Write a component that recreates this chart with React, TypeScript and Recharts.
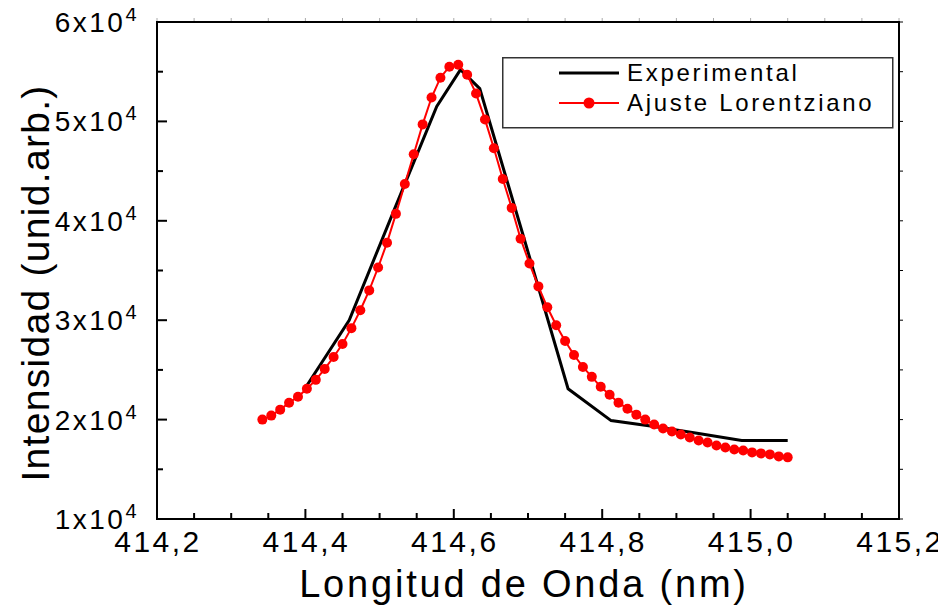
import React from 'react';
import { LineChart, Line, XAxis, YAxis, Legend } from 'recharts';

// Experimental spectrum (nm, counts)
const expWavelength = [414.40, 414.459, 414.518, 414.577, 414.609, 414.635, 414.694, 414.754, 414.812, 414.87, 414.93, 414.988, 415.05];
const expIntensity = [23200, 30000, 40800, 51500, 55200, 53300, 38400, 23100, 19900, 19300, 18600, 17900, 17900];

// Lorentzian fit points
const fitWavelength = [
  414.342, 414.354, 414.366, 414.378, 414.390, 414.402, 414.414, 414.426, 414.438, 414.450,
  414.462, 414.474, 414.486, 414.498, 414.510, 414.522, 414.534, 414.546, 414.558, 414.570,
  414.582, 414.594, 414.606, 414.618, 414.630, 414.642, 414.654, 414.666, 414.678, 414.690,
  414.702, 414.714, 414.726, 414.738, 414.750, 414.762, 414.774, 414.786, 414.798, 414.810,
  414.822, 414.834, 414.846, 414.858, 414.870, 414.882, 414.894, 414.906, 414.918, 414.930,
  414.942, 414.954, 414.966, 414.978, 414.990, 415.002, 415.014, 415.026, 415.038, 415.050,
];
const fitIntensity = [
  20000, 20400, 21000, 21700, 22300, 23100, 24000, 25100, 26300, 27600,
  29200, 31000, 33000, 35300, 37800, 40700, 43700, 46700, 49700, 52400,
  54400, 55500, 55700, 54700, 52800, 50200, 47300, 44200, 41300, 38200,
  35700, 33400, 31300, 29500, 27900, 26500, 25300, 24300, 23300, 22500,
  21700, 21100, 20500, 20000, 19500, 19100, 18800, 18500, 18200, 17900,
  17700, 17400, 17200, 17000, 16900, 16700, 16600, 16500, 16300, 16200,
];

const seriesNames = ['Experimental', 'Ajuste Lorentziano'];

const xTicks = [
  414.2, 414.25, 414.3, 414.35, 414.4, 414.45, 414.5, 414.55, 414.6, 414.65, 414.7,
  414.75, 414.8, 414.85, 414.9, 414.95, 415.0, 415.05, 415.1, 415.15, 415.2,
];
const yTicks = [10000, 15000, 20000, 25000, 30000, 35000, 40000, 45000, 50000, 55000, 60000];

const expData = expWavelength.map((x, i) => ({ x, y: expIntensity[i] }));
const fitData = fitWavelength.map((x, i) => ({ x, y: fitIntensity[i] }));

const FONT = 'Arial, "Liberation Sans", sans-serif';
// plot box edges (chart margins + axis sizes)
const LEFT = 157;
const RIGHT = 899;
const TOP = 22;
const BOTTOM = 519;

const XTick = (props: any) => {
  const { x, payload } = props;
  const v = payload.value as number;
  const major = Math.round(v * 100) % 20 === 0;
  return (
    <g>
      <line x1={x} x2={x} y1={BOTTOM} y2={BOTTOM - (major ? 10 : 6)} stroke="#000" strokeWidth={2} />
      <line x1={x} x2={x} y1={TOP - 1} y2={TOP - 4} stroke="#aaa" strokeWidth={1} />
      {major && (
        <text x={x + 1} y={BOTTOM + 33} textAnchor="middle" fontSize={30} letterSpacing={2.5} fontFamily={FONT} fill="#000">
          {v.toFixed(1).replace('.', ',')}
        </text>
      )}
    </g>
  );
};

const YTick = (props: any) => {
  const { y, payload } = props;
  const v = payload.value as number;
  const major = v % 10000 === 0;
  return (
    <g>
      {v === yTicks[0] && (
        <path
          d={`M${LEFT},${TOP}H${RIGHT}V${BOTTOM}H${LEFT}Z`}
          fill="none"
          stroke="#000"
          strokeWidth={2}
        />
      )}
      <line x1={LEFT} x2={LEFT + (major ? 10 : 6)} y1={y} y2={y} stroke="#000" strokeWidth={2} />
      <line x1={RIGHT + 1} x2={RIGHT + 4} y1={y} y2={y} stroke="#000" strokeWidth={1} />
      {major && (
        <text x={LEFT - 18} y={y} dy="0.36em" textAnchor="end" fontSize={28} letterSpacing={2.5} fontFamily={FONT} fill="#000">
          {v / 10000}x10
          <tspan dy={-11} fontSize={20}>4</tspan>
        </text>
      )}
    </g>
  );
};

const LegendBox = () => (
  <svg width={392} height={72}>
    <rect x={0.75} y={0.75} width={390} height={70} fill="#fff" stroke="#333" strokeWidth={1.5} />
    {seriesNames.map((name, i) => {
      const cy = 16 + i * 30;
      const red = i === 1;
      return (
        <g key={name}>
          <line x1={57} x2={117} y1={cy} y2={cy} stroke={red ? '#ff0000' : '#000'} strokeWidth={red ? 2 : 3} />
          {red && <circle cx={87} cy={cy} r={5.5} fill="#ff0000" />}
          <text x={125} y={cy + 8} fontSize={24} letterSpacing={2.7} fontFamily={FONT} fill="#000">
            {name}
          </text>
        </g>
      );
    })}
  </svg>
);

export default function App() {
  return (
    <div style={{ margin: -8, background: '#fff' }}>
      <LineChart width={946} height={614} margin={{ top: 22, right: 0, bottom: 0, left: 0 }}>
        <XAxis
          dataKey="x"
          type="number"
          domain={[414.2, 415.2]}
          ticks={xTicks}
          interval={0}
          allowDataOverflow
          height={95}
          tickLine={false}
          axisLine={{ stroke: '#000', strokeWidth: 2 }}
          tick={<XTick />}
          label={{
            content: () => (
              <text x={524} y={597} textAnchor="middle" fontSize={38} letterSpacing={2.8} fontFamily={FONT} fill="#000">
                Longitud de Onda (nm)
              </text>
            ),
          }}
        />
        <YAxis
          type="number"
          domain={[10000, 60000]}
          ticks={yTicks}
          interval={0}
          allowDataOverflow
          width={157}
          tickLine={false}
          axisLine={{ stroke: '#000', strokeWidth: 2 }}
          tick={<YTick />}
          label={{
            content: () => (
              <text
                x={49}
                y={283}
                transform="rotate(-90 49 283)"
                textAnchor="middle"
                fontSize={39}
                letterSpacing={1.3}
                fontFamily={FONT}
                fill="#000"
              >
                Intensidad (unid.arb.)
              </text>
            ),
          }}
        />
        <YAxis
          yAxisId="right"
          orientation="right"
          type="number"
          domain={[10000, 60000]}
          width={47}
          tick={false}
          tickLine={false}
          axisLine={{ stroke: '#000', strokeWidth: 2 }}
        />
        <Legend
          layout="horizontal"
          verticalAlign="middle"
          align="center"
          content={<LegendBox />}
          wrapperStyle={{ position: 'absolute', left: 502, top: 57, width: 392, height: 72 }}
        />
        <Line
          data={expData}
          dataKey="y"
          name={seriesNames[0]}
          stroke="#000000"
          strokeWidth={3}
          dot={false}
          isAnimationActive={false}
        />
        <Line
          data={fitData}
          dataKey="y"
          name={seriesNames[1]}
          stroke="#ff0000"
          strokeWidth={2}
          dot={{ r: 5, fill: '#ff0000', stroke: '#ff0000', strokeWidth: 0 }}
          isAnimationActive={false}
        />
      </LineChart>
    </div>
  );
}
